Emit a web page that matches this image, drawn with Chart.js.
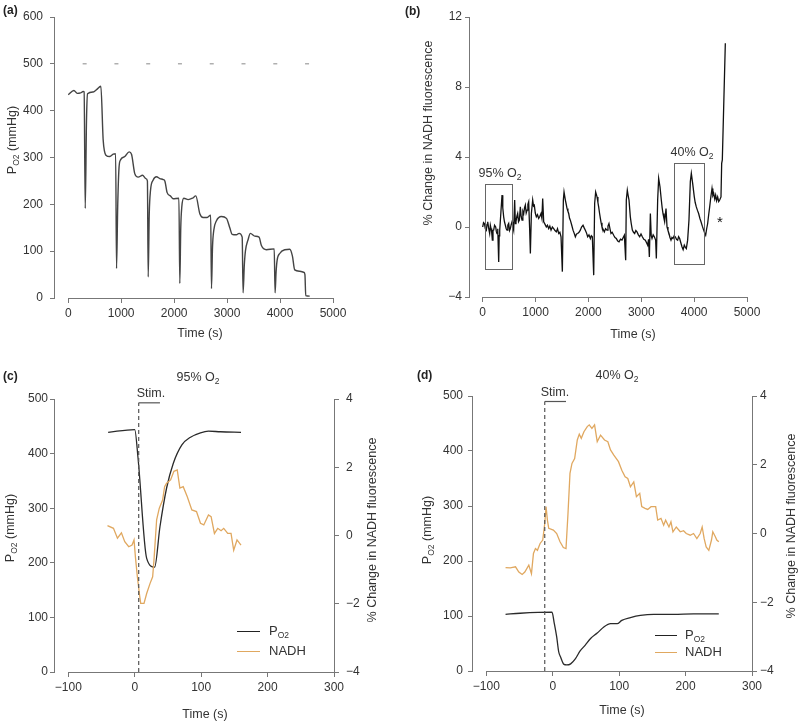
<!DOCTYPE html>
<html>
<head>
<meta charset="utf-8">
<script src="https://cdn.jsdelivr.net/npm/chart.js@4.4.1/dist/chart.umd.min.js"></script>
<style>
body{margin:0;background:#fff;font-family:"Liberation Sans",Arial,sans-serif;color:#333}
#wrap{position:relative;width:800px;height:725px;overflow:hidden}
canvas{position:absolute}
.t{position:absolute;white-space:nowrap;font-size:12.5px;color:#333;line-height:1}
.c{transform:translate(-50%,-50%)}
.rot{width:240px;height:16px;line-height:16px;text-align:center;transform:rotate(-90deg)}
.b{font-weight:bold;font-size:12px;color:#222}
sub{font-size:8.5px;vertical-align:-3px;line-height:0}
.lg{position:absolute;height:0;border-top:1.6px solid}
</style>
</head>
<body>
<div id="wrap">
  <canvas id="ca" width="400" height="362" style="left:0;top:0"></canvas>
  <canvas id="cb" width="400" height="362" style="left:400px;top:0"></canvas>
  <canvas id="cc" width="400" height="363" style="left:0;top:362px"></canvas>
  <canvas id="cd" width="400" height="363" style="left:400px;top:362px"></canvas>

  <div class="t b" style="left:3px;top:4px">(a)</div>
  <div class="t b" style="left:405px;top:5px">(b)</div>
  <div class="t b" style="left:3px;top:370px">(c)</div>
  <div class="t b" style="left:417px;top:369px">(d)</div>

  <!-- rotated titles: box 240x16 centred on (cx, cy) => left = cx-120, top = cy-8 -->
  <div class="t rot" style="left:-108px;top:132px">P<sub>O2</sub> (mmHg)</div>
  <div class="t c" style="left:200px;top:333px">Time (s)</div>

  <div class="t rot" style="left:308px;top:125px">% Change in NADH fluorescence</div>
  <div class="t c" style="left:633px;top:334px">Time (s)</div>
  <div class="t c" style="left:500px;top:173px">95% O<sub>2</sub></div>
  <div class="t c" style="left:692px;top:152px">40% O<sub>2</sub></div>
  <div class="t c" style="left:720px;top:221px;font-size:15px;color:#111">*</div>

  <div class="t c" style="left:198px;top:377px">95% O<sub>2</sub></div>
  <div class="t c" style="left:151px;top:393px">Stim.</div>
  <div class="t rot" style="left:-110px;top:520px">P<sub>O2</sub> (mmHg)</div>
  <div class="t rot" style="left:252px;top:522px">% Change in NADH fluorescence</div>
  <div class="t c" style="left:205px;top:714px">Time (s)</div>
  <div class="lg" style="left:237px;top:631px;width:23px;border-color:#222"></div>
  <div class="lg" style="left:237px;top:651px;width:23px;border-color:#e0a860"></div>
  <div class="t" style="left:269px;top:624px;font-size:13px">P<sub>O2</sub></div>
  <div class="t" style="left:269px;top:644px;font-size:13px">NADH</div>

  <div class="t c" style="left:617px;top:375px">40% O<sub>2</sub></div>
  <div class="t c" style="left:555px;top:392px">Stim.</div>
  <div class="t rot" style="left:307px;top:522px">P<sub>O2</sub> (mmHg)</div>
  <div class="t rot" style="left:671px;top:518px">% Change in NADH fluorescence</div>
  <div class="t c" style="left:622px;top:710px">Time (s)</div>
  <div class="lg" style="left:655px;top:635px;width:22px;border-color:#222"></div>
  <div class="lg" style="left:655px;top:652px;width:22px;border-color:#e0a860"></div>
  <div class="t" style="left:685px;top:628px;font-size:13px">P<sub>O2</sub></div>
  <div class="t" style="left:685px;top:645px;font-size:13px">NADH</div>
</div>
<script>
// panel (a): P_O2 over whole run
const timeA = [0,107,170,233,283,300,321,345,365,472,535,616,660,711,786,849,895,912,935,960,988,1069,1151,1195,1258,1321,1403,1466,1495,1510,1530,1554,1604,1667,1730,1793,1824,1868,1931,1981,2090,2107,2125,2145,2183,2264,2346,2409,2485,2547,2623,2690,2705,2725,2749,2799,2893,2988,3051,3095,3176,3227,3285,3302,3325,3346,3397,3440,3522,3604,3648,3742,3890,3906,3925,3944,3994,4088,4183,4233,4277,4372,4447,4470,4485,4560];
const po2A = [434,443,437,438,441,440,191,380,436,440,445,452,337,305,302,307,308,63,200,280,295,302,312,307,265,258,262,255,250,45,180,230,252,259,255,253,250,225,218,212,213,31,150,195,213,210,213,218,180,172,172,177,20,110,145,165,174,170,150,136,135,138,130,11,70,100,125,138,132,130,112,103,105,11,55,80,95,103,104,90,60,57,55,50,5,4];
const stimMarksA = [310,910,1510,2110,2710,3310,3910,4510];
const stimMarkLevelA = 500;

// panel (b): NADH over whole run
const timeB = [0,16,32,50,69,82,95,112,132,145,
  158,170,183,195,208,225,246,258,271,285,
  303,312,322,335,347,366,380,397,412,429,
  445,460,475,492,508,523,540,555,570,586,
  605,618,630,646,662,678,694,712,728,744,
  760,776,792,807,823,839,855,870,889,902,
  921,946,962,977,995,1015,1037,1059,1080,1103,
  1120,1135,1154,1180,1204,1225,1248,1270,1293,1318,
  1343,1368,1393,1415,1438,1460,1482,1507,1526,1539,
  1564,1580,1595,1612,1627,1643,1658,1685,1709,1730,
  1753,1775,1797,1822,1847,1870,1898,1920,1942,1965,
  1986,2010,2037,2055,2074,2100,2118,2137,2163,2180,
  2194,2210,2226,2240,2257,2280,2301,2325,2352,2370,
  2389,2408,2427,2450,2478,2503,2528,2555,2579,2607,
  2635,2658,2680,2705,2717,2736,2752,2768,2793,2810,
  2831,2853,2875,2897,2919,2945,2970,2995,3020,3048,
  3077,3100,3121,3138,3153,3172,3188,3203,3225,3247,
  3272,3285,3310,3329,3354,3379,3395,3411,3428,3442,
  3468,3487,3505,3524,3543,3562,3580,3600,3622,3644,
  3666,3688,3706,3726,3748,3770,3792,3814,3832,3852,
  3877,3902,3928,3947,3972,4003,4020,4041,4063,4085,
  4108,4130,4155,4180,4200,4218,4237,4256,4275,4294,
  4315,4338,4354,4370,4390,4407,4425,4445,4465,4483,
  4508,4521,4533,4590];
const nadhB = [0,0.25,0.2,-0.1,-0.18,0.15,0.3,-0.05,-0.37,0.1,
  -0.09,-0.3,-0.75,-0.2,-0.18,0.1,0,-0.25,-0.37,-0.1,
  -2.0,-0.5,-0.18,0.4,0.96,1.82,1.1,0.58,0.3,0.1,
  -0.1,-0.18,0.1,0.2,-0.2,-0.09,0.15,0.3,0.05,-0.18,
  1.54,0.2,0.3,0.6,0.77,0.3,0.39,1.15,0.6,0.39,
  0.9,0.77,1.1,1.25,0.8,0.96,1.3,1.44,-0.18,-1.52,
  0.77,1.54,1.2,1.25,0.8,0.58,0.7,0.49,0.6,0.77,
  0.5,1.63,0.3,0.15,0,0.1,-0.09,0.05,-0.18,0,
  -0.09,-0.2,-0.28,-0.1,-0.37,-0.3,-0.56,-2.55,1.54,2.0,
  1.54,1.3,1.06,0.9,0.77,0.5,0.39,0.1,-0.18,-0.35,
  -0.56,-0.4,-0.37,-0.3,-0.18,0,0.1,-0.05,-0.18,-0.35,
  -0.56,-0.45,-0.66,-0.5,-0.56,-2.75,1.34,2.0,1.72,1.4,
  1.15,0.8,0.49,0.25,0,-0.15,-0.28,-0.1,-0.18,0.05,
  0.2,-0.1,-0.37,-0.3,-0.47,-0.6,-0.66,-0.8,-0.85,-0.7,
  -0.75,-0.6,-0.47,-1.9,1.54,2.1,1.8,1.54,0.58,0.2,
  -0.18,-0.3,-0.37,-0.2,-0.28,-0.45,-0.56,-0.4,-0.56,-0.7,
  -0.75,-0.9,-1.04,-0.7,-1.71,0.77,-0.5,-0.66,-0.45,-0.56,
  -0.75,-1.8,1.54,2.78,2.3,1.54,1.1,0.77,0.5,0.3,
  1.06,0,-0.2,-0.37,-0.6,-0.75,-0.6,-0.66,-0.5,-0.56,
  -0.7,-0.75,-0.55,-0.66,-0.9,-1.13,-1.3,-1.04,-1.15,-1.23,
  -0.75,0.39,2.59,3.06,2.49,1.72,1.4,1.15,0.95,0.77,
  0.5,0.3,0.05,-0.18,-0.35,-0.47,-0.1,0.2,0.7,1.15,
  1.7,2.2,1.8,1.92,1.6,1.82,1.5,1.72,1.45,1.54,
  1.72,3.64,3.83,10.5];
const box95Time = [50,555], box95Val = [-2.43,2.43];
const box40Time = [3613,4180], box40Val = [-2.12,3.64];

// panel (c): 95% O2 detail
const timePoC = [-40,0,5,18,30,38,48,58,71,84,99,111,129,160];
const po2C = [439,444,392,208,192,266,337,382,416,430,438,441,440,439];
const timeNadhC = [-41,-32,-26,-20,-15,-9,-4,-1,1,4,7,9,14,18,23,27,29,33,37,42,45,48,54,59,64,68,73,79,86,93,99,104,111,115,120,125,130,134,140,145,149,154,160];
const nadhC = [0.29,0.21,-0.08,0.08,-0.18,-0.33,-0.28,-0.13,-0.62,-1.21,-1.7,-1.99,-1.99,-1.7,-1.41,-1.21,-0.72,0.46,0.8,1.04,1.43,1.53,1.63,1.88,1.92,1.39,1.43,1.14,0.75,0.7,0.36,0.31,0.6,0.55,0.06,0.21,0.14,0.21,0.06,0.06,-0.43,-0.13,-0.28];
const stimC = [6,38], stimLevelC = 493;

// panel (d): 40% O2 detail
const timePoD = [-71,-49,-1,2,6,9,12,17,21,27,34,41,49,57,67,77,87,97,104,117,132,152,182,212,250];
const po2D = [103,105,107,89,62,35,25,12,11,13,22,36,47,59,69,80,86,86,92,97,101,103,103,104,104];
const timeNadhD = [-71,-64,-56,-51,-46,-42,-36,-32,-29,-26,-23,-19,-15,-12,-10,-8,-6,1,6,11,16,20,23,26,29,33,37,40,43,47,52,55,59,63,67,72,78,83,87,92,99,104,109,113,117,122,126,131,134,139,143,148,155,158,163,167,170,175,178,181,186,192,197,201,207,212,217,222,225,228,231,235,239,241,245,247,250];
const nadhD = [-0.99,-1.0,-0.97,-1.12,-1.19,-1.12,-0.92,-1.17,-0.58,-0.44,-0.49,-0.29,-0.19,0.29,0.78,0.39,0.15,0.1,0,-0.24,-0.41,-0.44,0.58,1.75,2.04,2.18,2.72,2.89,2.77,2.96,3.11,3.16,3.06,3.16,2.67,2.86,2.72,2.67,2.43,2.28,2.09,1.84,1.65,1.6,1.36,1.5,1.07,1.17,0.78,0.73,0.7,0.78,0.78,0.39,0.44,0.24,0.39,0.19,0.34,0.05,0.19,0.05,0.08,0,-0.05,0,-0.15,0,0.19,-0.15,-0.39,-0.49,-0.19,0.05,-0.1,-0.19,-0.24];
const stimD = [-12,20], stimLevelD = 490;

// tick labels
const ticksRunX = [0,1000,2000,3000,4000,5000];
const ticksPo2A = [0,100,200,300,400,500,600];
const ticksNadhB = [-4,0,4,8,12];
const ticksDetailX = [-100,0,100,200,300];
const ticksPo2Detail = [0,100,200,300,400,500];
const ticksNadhDetail = [-4,-2,0,2,4];

const FONT = '"Liberation Sans", Arial, sans-serif';
const AXIS = '#777', TXT = '#333', NADH_COL = '#e0a860', PO2_COL = '#2a2a2a';

const pts = (xs, ys) => xs.map((x,i)=>({x, y: ys[i]}));
const fmt = v => String(v).replace('-', '\u2212');

// axis lines only span first..last tick, like the original figure
const axisLines = {
  id:'axisLines',
  afterDraw(chart){
    const ctx = chart.ctx;
    ctx.save(); ctx.strokeStyle = AXIS; ctx.lineWidth = 1;
    Object.values(chart.scales).forEach(s=>{
      const t = s.ticks; if(!t || !t.length) return;
      const p0 = s.getPixelForValue(t[0].value), p1 = s.getPixelForValue(t[t.length-1].value);
      ctx.beginPath();
      if(s.isHorizontal()){ const y = Math.round(s.top)+0.5; ctx.moveTo(p0,y); ctx.lineTo(p1,y); }
      else { const x = s.position==='left' ? Math.round(s.right)-0.5 : Math.round(s.left)+0.5; ctx.moveTo(x,p0); ctx.lineTo(x,p1); }
      ctx.stroke();
    });
    ctx.restore();
  }
};

// rectangles drawn in data space (panel b)
const boxes = {
  id:'boxes',
  afterDatasetsDraw(chart, args, opts){
    if(!opts.items) return;
    const xs = chart.scales.x, ys = chart.scales.y, ctx = chart.ctx;
    ctx.save(); ctx.strokeStyle = '#666'; ctx.lineWidth = 1;
    opts.items.forEach(b=>{
      const x0 = xs.getPixelForValue(b.t[0]), x1 = xs.getPixelForValue(b.t[1]);
      const y0 = ys.getPixelForValue(b.v[1]), y1 = ys.getPixelForValue(b.v[0]);
      ctx.strokeRect(Math.round(x0)+0.5, Math.round(y0)+0.5, Math.round(x1-x0), Math.round(y1-y0));
    });
    ctx.restore();
  }
};
Chart.register(axisLines, boxes);

function xAxis(min, max, ticks, height, pad){
  return { type:'linear', min, max,
    afterFit: s => { s.height = height; },
    afterBuildTicks: s => { s.ticks = ticks.map(v=>({value:v})); },
    border:{display:false},
    grid:{drawOnChartArea:false, drawTicks:true, tickLength:5, color:AXIS},
    ticks:{padding:pad, color:TXT, font:{size:12, family:FONT}, autoSkip:false, maxRotation:0, callback:fmt} };
}
function yAxis(min, max, ticks, pos, width, pad){
  return { type:'linear', position:pos, min, max,
    afterFit: s => { s.width = width; },
    afterBuildTicks: s => { s.ticks = ticks.map(v=>({value:v})); },
    border:{display:false},
    grid:{drawOnChartArea:false, drawTicks:true, tickLength:5, color:AXIS},
    ticks:{padding:pad, color:TXT, font:{size:12, family:FONT}, autoSkip:false, callback:fmt} };
}
const base = (padding) => ({
  responsive:false, animation:false, maintainAspectRatio:false,
  layout:{padding},
  plugins:{legend:{display:false}, tooltip:{enabled:false}},
  elements:{point:{radius:0}, line:{borderWidth:1.3}}
});

// (a)
new Chart(document.getElementById('ca'), {
  type:'line',
  data:{datasets:[
    {data:pts(timeA, po2A), borderColor:'#444', borderWidth:1.4, cubicInterpolationMode:'monotone'},
    {data:stimMarksA.map(x=>({x, y:stimMarkLevelA})), showLine:false, pointStyle:'line', pointRadius:2, borderColor:'#888', borderWidth:1}
  ]},
  options:Object.assign(base({left:0, top:17, right:67, bottom:0}), {
    scales:{ x:xAxis(-250, 5000, ticksRunX, 64, 3), y:yAxis(0, 600, ticksPo2A, 'left', 55, 7) }
  })
});

// (b)
const optB = base({left:0, top:17, right:53, bottom:0});
optB.plugins.boxes = {items:[{t:box95Time, v:box95Val}, {t:box40Time, v:box40Val}]};
optB.scales = { x:xAxis(-240, 5000, ticksRunX, 65, 3), y:yAxis(-4, 12, ticksNadhB, 'left', 70, 3) };
new Chart(document.getElementById('cb'), {
  type:'line',
  data:{datasets:[ {data:pts(timeB, nadhB), borderColor:'#111', borderWidth:1.3} ]},
  options:optB
});

function detail(id, tPo, po2, tN, nadh, stim, stimLevel, pad, dims){
  new Chart(document.getElementById(id), {
    type:'line',
    data:{datasets:[
      {data:[{x:stim[0], y:0}, {x:stim[0], y:stimLevel}], borderColor:'#555', borderWidth:1.2, borderDash:[4,3], yAxisID:'y'},
      {data:[{x:stim[0], y:stimLevel}, {x:stim[1], y:stimLevel}], borderColor:'#555', borderWidth:1.2, yAxisID:'y'},
      {data:pts(tN, nadh), borderColor:NADH_COL, borderWidth:1.3, yAxisID:'y2'},
      {data:pts(tPo, po2), borderColor:PO2_COL, borderWidth:1.3, yAxisID:'y', cubicInterpolationMode:'monotone'}
    ]},
    options:Object.assign(base(pad), {
      scales:{
        x:xAxis(-120, 300, ticksDetailX, dims.xh, 3),
        y:yAxis(0, 500, ticksPo2Detail, 'left', dims.lw, dims.lp),
        y2:yAxis(-4, 4, ticksNadhDetail, 'right', dims.rw, dims.rp)
      }
    })
  });
}
detail('cc', timePoC, po2C, timeNadhC, nadhC, stimC, stimLevelC, {left:0, top:37, right:0, bottom:0}, {xh:53, lw:55, lp:2, rw:66, rp:7});
detail('cd', timePoD, po2D, timeNadhD, nadhD, stimD, stimLevelD, {left:0, top:34, right:0, bottom:0}, {xh:54, lw:73, lp:5, rw:48, rp:3});
</script>
</body>
</html>
